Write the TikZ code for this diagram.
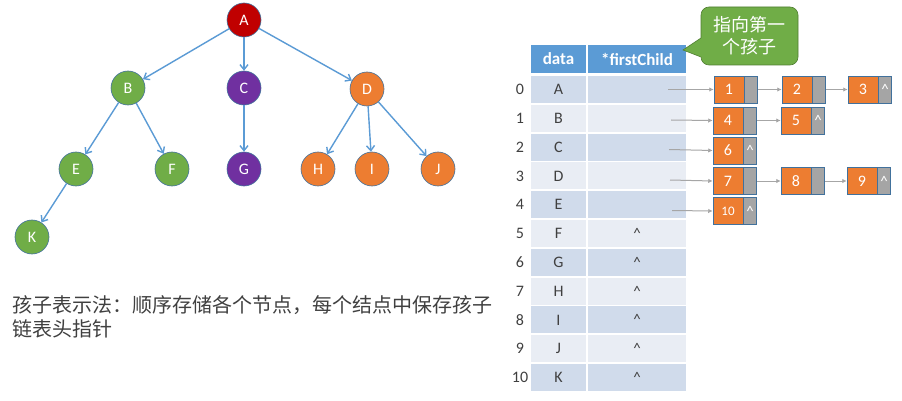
\documentclass[tikz,border=0pt]{standalone}
\usepackage{fontspec}
\setmainfont{Carlito}
\newfontfamily\cjk{Noto Sans CJK SC}
\usetikzlibrary{arrows.meta,positioning}
\definecolor{treeedge}{HTML}{5B9BD5}
\definecolor{nodeline}{HTML}{41719C}
\definecolor{cred}{HTML}{C00000}
\definecolor{cgreen}{HTML}{70AD47}
\definecolor{cpurple}{HTML}{7030A0}
\definecolor{corange}{HTML}{ED7D31}
\definecolor{cgrey}{HTML}{A5A5A5}
\definecolor{hdr}{HTML}{5B9BD5}
\definecolor{rowdark}{HTML}{D0DBEB}
\definecolor{rowlight}{HTML}{E9EDF4}
\definecolor{txt}{HTML}{404040}
\definecolor{listarrow}{HTML}{A6A6A6}
\definecolor{calloutline}{HTML}{507E32}
\tikzset{
  tnode/.style={circle, minimum size=34pt, inner sep=0pt, text=white, draw=nodeline, line width=0.6pt, font=\fontsize{16}{16}\selectfont},
  tedge/.style={draw=treeedge, line width=1.4pt, -{Straight Barb[length=5pt,width=8pt]}},
  hcell/.style={fill=hdr, text=white, minimum height=28pt, inner sep=0pt, font=\bfseries\fontsize{17}{17}\selectfont},
  dcell/.style={minimum height=27pt, minimum width=55pt, inner sep=0pt, text=txt, font=\fontsize{16}{16}\selectfont},
  fcell/.style={minimum height=27pt, minimum width=98pt, inner sep=0pt, text=txt, font=\fontsize{15}{15}\selectfont},
  idx/.style={text=txt, inner sep=0pt, font=\fontsize{16}{16}\selectfont},
  obox/.style={fill=corange, draw=nodeline, line width=0.5pt, minimum width=30pt, minimum height=27pt, inner sep=0pt, text=white, font=\fontsize{16}{16}\selectfont},
  gbox/.style={fill=cgrey, draw=nodeline, line width=0.5pt, minimum width=13pt, minimum height=27pt, inner sep=0pt, text=white, font=\fontsize{15}{15}\selectfont},
  larrow/.style={draw=listarrow, line width=1pt, -{Latex[length=4.5pt,width=4.5pt]}}
}
\begin{document}
\begin{tikzpicture}[x=1pt,y=-1pt]
\useasboundingbox[fill=white] (0,0) rectangle (902,401);

% tree
\node[tnode, fill=cred] (A) at (244,20) {A};
\node[tnode, fill=cgreen] (B) at (128,88) {B};
\node[tnode, fill=cpurple] (C) at (244,88) {C};
\node[tnode, fill=corange] (D) at (367,89) {D};
\node[tnode, fill=cgreen] (E) at (76,169) {E};
\node[tnode, fill=cgreen] (F) at (172,169) {F};
\node[tnode, fill=cpurple] (G) at (244,169) {G};
\node[tnode, fill=corange] (H) at (318,169) {H};
\node[tnode, fill=corange] (I) at (372,169) {I};
\node[tnode, fill=corange] (J) at (438,169) {J};
\node[tnode, fill=cgreen] (K) at (32,237) {K};
\draw[tedge] (A) -- (B);
\draw[tedge] (A) -- (C);
\draw[tedge] (A) -- (D);
\draw[tedge] (B) -- (E);
\draw[tedge] (B) -- (F);
\draw[tedge] (C) -- (G);
\draw[tedge] (D) -- (H);
\draw[tedge] (D) -- (I);
\draw[tedge] (D) -- (J);
\draw[tedge] (E) -- (K);

% caption
\node[anchor=west, align=left, inner sep=0pt, text=txt, font=\cjk\fontsize{20}{24}\selectfont] (cap) at (12,317) {孩子表示法：顺序存储各个节点，每个结点中保存孩子\\链表头指针};

% table header
\node[hcell, minimum width=55pt] (hdata) at (558.5,59) {data};
\node[hcell, minimum width=98pt] (hfc) at (637,59) {*firstChild};

% table rows
\foreach \i/\l in {0/A,1/B,2/C,3/D,4/E,5/F,6/G,7/H,8/I,9/J,10/K}{
  \pgfmathtruncatemacro{\odd}{mod(\i,2)}
  \ifnum\odd=0 \def\rc{rowdark}\else\def\rc{rowlight}\fi
  \node[dcell, fill=\rc] (d\i) at (558.5,89.5+28.8*\i) {\l};
  \ifnum\i<5
    \node[fcell, fill=\rc] (f\i) at (637,89.5+28.8*\i) {};
  \else
    \node[fcell, fill=\rc] (f\i) at (637,89.5+28.8*\i) {\textasciicircum};
  \fi
  \node[idx] (i\i) at (520,89.5+28.8*\i) {\i};
}

% callout
\draw[fill=cgreen, draw=calloutline, line width=0.6pt, rounded corners=8pt]
  (701,38) -- (701,7) -- (798,7) -- (798,65) -- (701,65) [sharp corners] -- (701,57) -- (683,50) -- cycle;
\node[align=center, text=white, inner sep=0pt, font=\cjk\fontsize{18}{22}\selectfont] (callout) at (749,36) {指向第一\\个孩子};

% linked lists
\node[obox] (n1) at (729,89.5) {1};
\node[gbox, right=0pt of n1] (p1) {};
\node[obox] (n2) at (797,89.5) {2};
\node[gbox, right=0pt of n2] (p2) {};
\node[obox] (n3) at (863,89.5) {3};
\node[gbox, right=0pt of n3] (p3) {\textasciicircum};
\node[obox] (n4) at (728,120.5) {4};
\node[gbox, right=0pt of n4] (p4) {};
\node[obox] (n5) at (796,120.5) {5};
\node[gbox, right=0pt of n5] (p5) {\textasciicircum};
\node[obox] (n6) at (728,150.5) {6};
\node[gbox, right=0pt of n6] (p6) {\textasciicircum};
\node[obox] (n7) at (728,181) {7};
\node[gbox, right=0pt of n7] (p7) {};
\node[obox] (n8) at (796,181) {8};
\node[gbox, right=0pt of n8] (p8) {};
\node[obox] (n9) at (862,181) {9};
\node[gbox, right=0pt of n9] (p9) {\textasciicircum};
\node[obox, font=\fontsize{13}{13}\selectfont] (n10) at (728,211) {10};
\node[gbox, right=0pt of n10] (p10) {\textasciicircum};

\coordinate (s0) at (668,89.5);
\coordinate (s1) at (671,120);
\coordinate (s2) at (669,149.5);
\coordinate (s3) at (670,180);
\coordinate (s4) at (672,210.5);
\draw[larrow] (s0) -- (n1.west);
\draw[larrow] (s1) -- (n4.west);
\draw[larrow] (s2) -- (n6.west);
\draw[larrow] (s3) -- (n7.west);
\draw[larrow] (s4) -- (n10.west);
\draw[larrow] (p1.east) -- (n2.west);
\draw[larrow] (p2.east) -- (n3.west);
\draw[larrow] (p4.east) -- (n5.west);
\draw[larrow] (p7.east) -- (n8.west);
\draw[larrow] (p8.east) -- (n9.west);
\end{tikzpicture}
\end{document}
